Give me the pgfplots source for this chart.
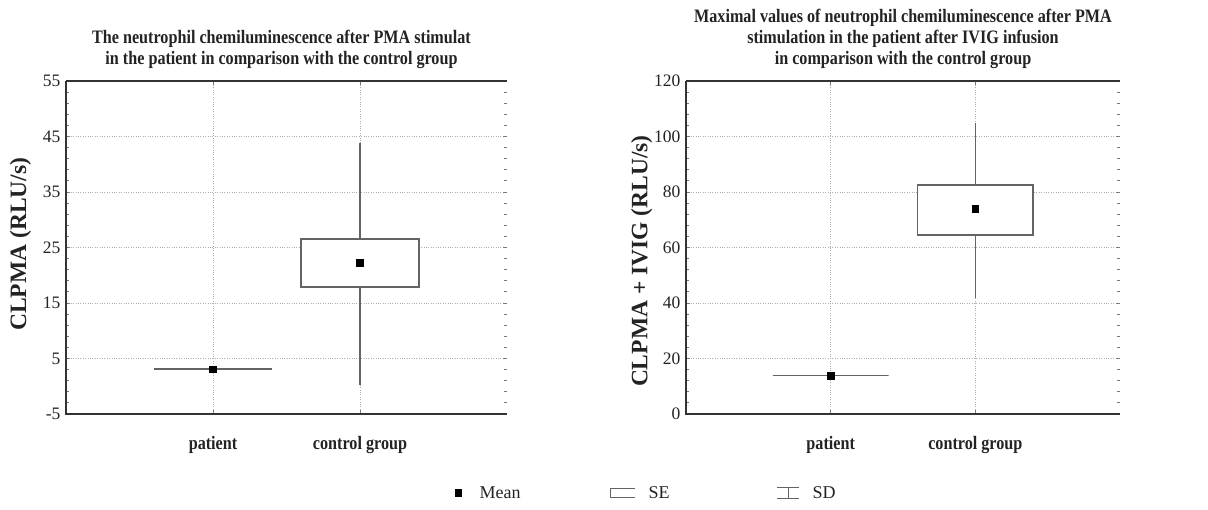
\documentclass[border=0pt]{standalone}
\usepackage{fontspec}
\setmainfont{Liberation Serif}
\newfontfamily\condbf{Liberation Serif}[FakeStretch=0.85,BoldFont={Liberation Serif Bold}]
\usepackage{pgfplots}
\pgfplotsset{compat=1.18}
\usepgfplotslibrary{statistics}
\definecolor{boxc}{RGB}{100,100,100}
\definecolor{gridc}{RGB}{175,175,175}
\definecolor{txt}{RGB}{35,35,35}
\pgfplotsset{
  chem/.style={
    scale only axis,
    anchor=south west,
    height=333pt,
    xmin=-1, xmax=2,
    xtick={0,1},
    xticklabels={patient,control group},
    xticklabel style={font=\fontsize{19}{22}\selectfont\condbf\bfseries, text=txt, yshift=-19pt},
    yticklabel style={font=\fontsize{17.5}{19}\selectfont, text=txt, xshift=-2pt},
    /pgf/number format/assume math mode=true,
    tick align=inside,
    xtick pos=both,
    ytick pos=both,
    minor y tick num=4,
    major tick length=4pt,
    minor tick length=3pt,
    every tick/.style={gridc!70!black, line width=0.8pt},
    grid=major,
    major grid style={gridc, dotted, line width=0.8pt},
    axis line style={draw=none},
    boxplot/draw direction=y,
    boxplot/box extend=0.8,
    boxplot/whisker extend=0,
    boxplot/draw/median/.code={},
    boxplot/every box/.style={draw=boxc, fill=white, line width=1.6pt},
    boxplot/every whisker/.style={draw=boxc, line width=1.6pt},
    clip=false,
  }
}
\begin{document}
\begin{tikzpicture}
\path[use as bounding box] (0pt,0pt) rectangle (1208pt,510pt);
% ---------- left ----------
\begin{axis}[chem,
  at={(66pt,96pt)}, width=441pt,
  ymin=-5, ymax=55, ytick={-5,5,15,25,35,45,55},
  title={The neutrophil chemiluminescence after PMA stimulat\\in the patient in comparison with the control group},
  title style={font=\fontsize{19}{20.7}\selectfont\condbf\bfseries, text=txt, align=center, anchor=south, at={(0.5,1)}, yshift=3pt, xshift=-5pt},
  ylabel={CLPMA (RLU/s)},
  every axis y label/.style={at={(axis description cs:-0.103,0.51)}, rotate=90, anchor=center, font=\fontsize{23.5}{25}\selectfont\bfseries, text=txt},
  legend columns=3,
  legend style={draw=none, fill=none, at={(axis description cs:0.875,-0.237)}, anchor=west,
    font=\fontsize{18}{20}\selectfont, text=txt,
    /tikz/column 1/.style={column sep=16pt},
    /tikz/column 2/.style={column sep=87pt},
    /tikz/column 3/.style={column sep=11pt},
    /tikz/column 4/.style={column sep=105pt},
    /tikz/column 5/.style={column sep=11pt}},
]
\draw[black!80, line width=1.4pt] (rel axis cs:0,1) -- (rel axis cs:0,0) -- (rel axis cs:1,0);
\draw[black!80, line width=1.2pt] (rel axis cs:0,1) -- (rel axis cs:1,1);
\addplot+[boxplot prepared={draw position=0, lower whisker=3.1, lower quartile=3.1, median=3.1, upper quartile=3.1, upper whisker=3.1}, mark=none, forget plot] coordinates {};
\addplot+[boxplot prepared={draw position=1, lower whisker=0.3, lower quartile=17.9, median=22.3, upper quartile=26.5, upper whisker=43.9}, mark=none, forget plot] coordinates {};
\addplot[only marks, mark=square*, mark size=3.3pt, black, forget plot] coordinates {(0,3.1) (1,22.3)};
\addlegendimage{only marks, mark=square*, mark size=3.3pt, black}
\addlegendentry{Mean}
\addlegendimage{legend image code/.code={\draw[boxc, line width=1pt] (25pt,4.5pt) -- (0pt,4.5pt) -- (0pt,-4.5pt) -- (25pt,-4.5pt);}}
\addlegendentry{SE}
\addlegendimage{legend image code/.code={\draw[boxc, line width=1pt] (0pt,5pt) -- (22pt,5pt) (11pt,5pt) -- (11pt,-6pt) (0pt,-6pt) -- (22pt,-6pt);}}
\addlegendentry{SD}
\end{axis}
% ---------- right ----------
\begin{axis}[chem,
  at={(686pt,96pt)}, width=434pt,
  ymin=0, ymax=120, ytick={0,20,40,60,80,100,120},
  title={Maximal values of neutrophil chemiluminescence after PMA\\stimulation in the patient after IVIG infusion\\in comparison with the control group},
  title style={font=\fontsize{19}{20.7}\selectfont\condbf\bfseries, text=txt, align=center, anchor=south, at={(0.5,1)}, yshift=3pt},
  ylabel={CLPMA + IVIG (RLU/s)},
  every axis y label/.style={at={(axis description cs:-0.102,0.459)}, rotate=90, anchor=center, font=\fontsize{23.5}{25}\selectfont\bfseries, text=txt},
]
\draw[black!80, line width=1.4pt] (rel axis cs:0,1) -- (rel axis cs:0,0) -- (rel axis cs:1,0);
\draw[black!80, line width=1.2pt] (rel axis cs:0,1) -- (rel axis cs:1,1);
\addplot+[boxplot prepared={draw position=0, lower whisker=13.8, lower quartile=13.8, median=13.8, upper quartile=13.8, upper whisker=13.8}, mark=none, forget plot] coordinates {};
\addplot+[boxplot prepared={draw position=1, lower whisker=41.9, lower quartile=64.6, median=73.9, upper quartile=82.6, upper whisker=104.7}, mark=none, forget plot] coordinates {};
\addplot[only marks, mark=square*, mark size=3.3pt, black, forget plot] coordinates {(0,13.8) (1,73.9)};
\end{axis}
\end{tikzpicture}
\end{document}
